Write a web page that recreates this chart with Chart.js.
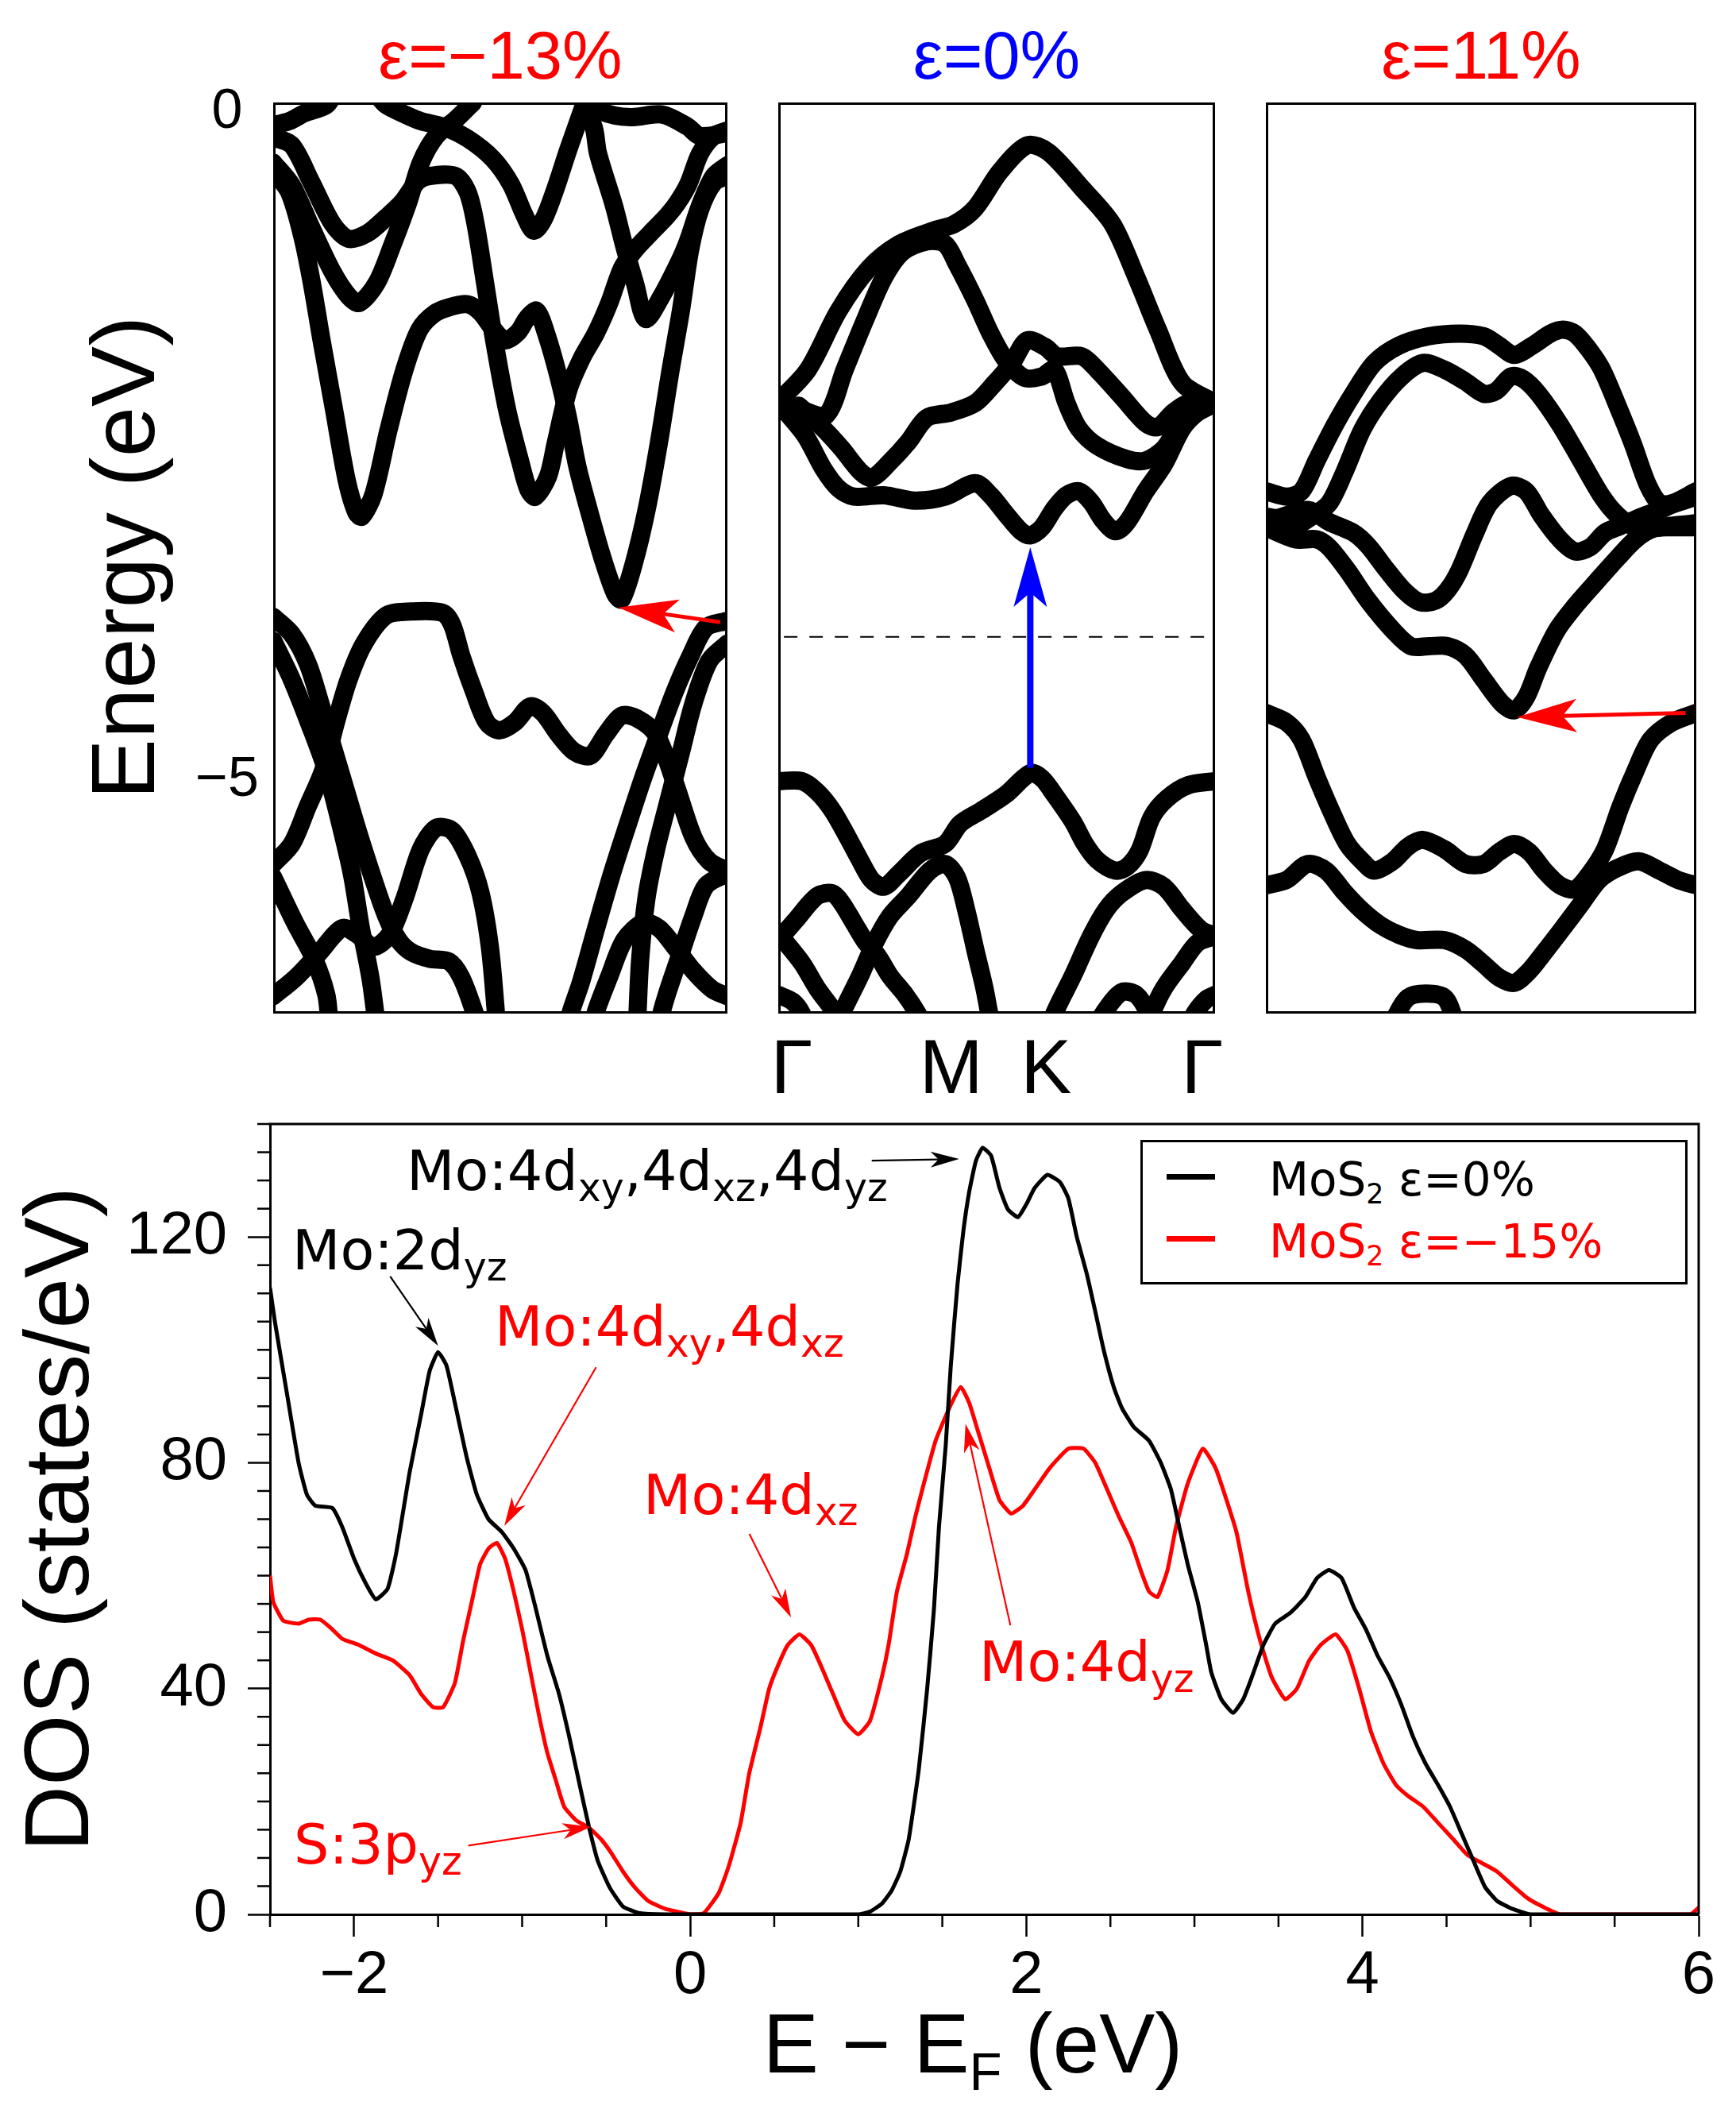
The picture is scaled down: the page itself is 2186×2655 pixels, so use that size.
<!DOCTYPE html>
<html>
<head>
<meta charset="utf-8">
<title>MoS2 band structures and DOS</title>
<script src="https://cdn.jsdelivr.net/npm/chart.js@4.4.1/dist/chart.umd.min.js"></script>
<style>
html,body{margin:0;padding:0;background:#ffffff;}
body{position:relative;width:2186px;height:2655px;overflow:hidden;}
canvas{position:absolute;display:block;}
.t{position:absolute;white-space:nowrap;line-height:1;margin:0;color:#000;}
.lib{font-family:"Liberation Sans",Arial,sans-serif;}
.dv{font-family:"DejaVu Sans",sans-serif;}
.c{transform:translate(-50%,-50%);}
.t sub{font-size:0.7em;vertical-align:-0.28em;line-height:0;}
.red{color:#ff0000;}
.leg{position:absolute;box-sizing:border-box;border:3px solid #000;background:#fff;}
.sw{position:absolute;height:7px;}
</style>
</head>
<body>
<canvas id="band0" width="572" height="1147" style="left:344px;top:129px"></canvas>
<canvas id="band1" width="550" height="1147" style="left:980px;top:129px"></canvas>
<canvas id="band2" width="542" height="1147" style="left:1594px;top:129px"></canvas>
<canvas id="dos" width="2186" height="1355" style="left:0px;top:1300px"></canvas>

<div class="t lib" style="left:155px;top:702px;font-size:114px;transform:translate(-50%,-50%) rotate(-90deg)">Energy (eV)</div>
<div class="t lib c" style="left:1225px;top:2572px;font-size:105px">E − E<sub style="font-size:0.64em;vertical-align:-0.33em">F</sub> (eV)</div>

<div class="t dv" style="left:512px;top:1439px;font-size:70px">Mo:4d<sub>xy</sub>,4d<sub>xz</sub>,4d<sub>yz</sub></div>
<div class="t dv" style="left:368px;top:1539px;font-size:70px">Mo:2d<sub>yz</sub></div>
<div class="t dv red" style="left:623px;top:1635px;font-size:70px">Mo:4d<sub>xy</sub>,4d<sub>xz</sub></div>
<div class="t dv red" style="left:810px;top:1847px;font-size:70px">Mo:4d<sub>xz</sub></div>
<div class="t dv red" style="left:370px;top:2287px;font-size:70px">S:3p<sub>yz</sub></div>
<div class="t dv red" style="left:1233px;top:2057px;font-size:70px">Mo:4d<sub>yz</sub></div>

<div class="leg" style="left:1436px;top:1435px;width:689px;height:182px"></div>
<div id="legendItems"></div>

<script>
// ---------------- DATA ----------------
const panelTitles = ['ε=−13%', 'ε=0%', 'ε=11%'];
const panelTitleColors = ['#ff0000', '#0000ff', '#ff0000'];
const kPointLabels = ['Γ', 'M', 'K', 'Γ'];
const kPointLabelPos = [3.1, 39.6, 61.3, 97.1];
const bandYTicks = [0, -5];
const energyMin = -6.77;
const energyMax = 0.05;
const fermiLevel = -3.95;
const fermiLineK = [1.3, 98];

// band energies [k (% of path), E (eV)], strain -13 %
const bandsStrainMinus13 = [
  [[0,-0.12],[3.5,-0.09],[6.9,-0.03],[11.7,0.03],[14,0.15]],
  [[0,-0.21],[4.1,-0.27],[8.3,-0.54],[13.1,-0.86],[16.6,-0.97],[20.7,-0.93],[24.9,-0.81],[28.3,-0.70],[31.8,-0.54],[34.5,-0.50],[40.1,-0.50],[42.8,-0.62],[44.5,-0.85],[46.5,-1.27],[48.6,-1.72],[51.5,-2.25],[54.4,-2.64],[56.2,-2.85],[57.7,-2.90],[60.5,-2.75],[62.2,-2.50],[65.0,-2.10],[68.0,-1.86],[71.0,-1.68],[74.0,-1.45],[76.8,-1.19],[79.7,-1.05],[83.0,-0.93],[86.7,-0.80],[89.0,-0.70],[91.4,-0.56],[94.0,-0.33],[97.0,-0.20],[100,-0.16]],
  [[0,-0.46],[3.5,-0.62],[6.4,-0.95],[8.5,-1.30],[10.6,-1.72],[13.4,-2.25],[16.2,-2.78],[18.3,-3.02],[19.5,-3.05],[22.1,-2.88],[25.4,-2.40],[28.9,-1.95],[32.2,-1.65],[35.5,-1.53],[39.0,-1.48],[42.8,-1.46],[45.6,-1.52],[48.3,-1.64],[51.1,-1.73],[53.9,-1.67],[56.0,-1.56],[58.0,-1.51],[60.1,-1.68],[62.8,-2.0],[64.9,-2.31],[67.0,-2.68],[69.8,-3.04],[72.5,-3.36],[75.3,-3.63],[76.7,-3.67],[79.4,-3.40],[82.2,-3.00],[84.9,-2.50],[87.5,-1.95],[89.8,-1.50],[91.8,-1.05],[94.0,-0.75],[97.0,-0.55],[100,-0.50]],
  [[0,-0.40],[4.1,-0.57],[8.3,-0.88],[13.1,-1.22],[16.6,-1.40],[19.0,-1.45],[22.8,-1.30],[26.2,-1.02],[29.7,-0.70],[32.5,-0.40],[35.9,-0.20],[40.1,-0.08],[44,0.05]],
  [[23,0.10],[24.9,0.03],[29.0,-0.04],[32.5,-0.09],[37.3,-0.13],[42.8,-0.22],[48.3,-0.37],[52.3,-0.56],[55.4,-0.80],[57.4,-0.91],[59.6,-0.82],[62.2,-0.59],[64.9,-0.31],[67.7,-0.04],[68.4,0.03],[69,0.10]],
  [[68.4,0.03],[70.6,-0.14],[71.5,-0.33],[75.0,-0.72],[77.4,-1.04],[79.7,-1.31],[82.0,-1.57],[85.5,-1.40],[89.7,-1.12],[91.4,-0.98],[94.0,-0.72],[97.0,-0.50],[100,-0.42]],
  [[71,0.05],[72.5,-0.02],[78.7,-0.06],[85.6,-0.04],[91.2,-0.13],[93.9,-0.20],[100,-0.18]],
  [[0,-3.80],[4.1,-3.93],[7.6,-4.15],[10.4,-4.45],[13.1,-4.77],[15.9,-5.09],[18.6,-5.40],[22.1,-5.77],[24.9,-6.04],[27.6,-6.22],[30.4,-6.31],[34.5,-6.36],[38.7,-6.38],[41.4,-6.50],[44.2,-6.75],[45,-6.85]],
  [[0,-3.98],[4.1,-4.27],[8.3,-4.63],[11.7,-4.95],[14.5,-5.31],[17.3,-5.72],[19.3,-6.13],[21.4,-6.50],[22.4,-6.75],[22.7,-6.85]],
  [[0,-5.65],[4.1,-5.50],[7.6,-5.22],[11.0,-4.95],[13.8,-4.59],[16.6,-4.27],[20.0,-4.0],[24.9,-3.79],[30.4,-3.76],[37.3,-3.77],[39.4,-3.86],[41.4,-4.09],[44.2,-4.36],[47.0,-4.59],[49.7,-4.65],[53.2,-4.59],[56.6,-4.47],[59.4,-4.52],[62.8,-4.68],[66.3,-4.81],[69.8,-4.84],[73.2,-4.68],[76.7,-4.54],[80.1,-4.56],[84.3,-4.68],[88.4,-5.04],[92.5,-5.45],[96.0,-5.63],[100,-5.70]],
  [[100,-3.83],[95.3,-3.88],[91.9,-4.09],[88.4,-4.36],[84.9,-4.68],[81.5,-5.0],[78.0,-5.36],[74.6,-5.72],[71.1,-6.13],[67.7,-6.54],[65.6,-6.75],[65,-6.85]],
  [[100,-4.0],[96.0,-4.13],[92.5,-4.45],[89.8,-4.81],[87.0,-5.18],[84.3,-5.54],[82.2,-5.90],[80.8,-6.36],[80.1,-6.85]],
  [[100,-5.72],[95.3,-5.81],[92.5,-6.04],[89.8,-6.31],[87.0,-6.59],[85.6,-6.75],[85,-6.85]],
  [[70.5,-6.85],[71.1,-6.75],[73.9,-6.50],[77.3,-6.22],[81.5,-6.09],[84.9,-6.13],[88.4,-6.27],[92.5,-6.45],[96.7,-6.59],[100,-6.64]],
  [[0,-6.64],[5,-6.50],[10,-6.32],[15.2,-6.13],[18.6,-6.18],[22.1,-6.27],[25.6,-6.18],[29.0,-5.90],[32.5,-5.54],[35.9,-5.38],[39.4,-5.40],[42.8,-5.59],[45.6,-5.86],[47.7,-6.27],[49.0,-6.75],[49.2,-6.85]],
  [[0,-5.75],[4.8,-6.09],[9.0,-6.36],[11.7,-6.63],[12.4,-6.85]]
];

// strain 0 %
const bandsStrain0 = [
  [[0,-2.19],[6.8,-1.95],[13.8,-1.51],[20.8,-1.19],[27.7,-1.01],[35.4,-0.91],[40.3,-0.86],[45.1,-0.74],[50.7,-0.47],[57.0,-0.27],[61.8,-0.32],[69.5,-0.59],[76.5,-0.86],[82.0,-1.26],[86.9,-1.65],[92.5,-2.05],[100,-2.20]],
  [[0,-2.19],[5.4,-2.25],[11.0,-2.29],[15.2,-1.95],[20.1,-1.56],[24.2,-1.26],[28.4,-1.07],[34.0,-0.99],[38.2,-1.01],[40.9,-1.16],[45.1,-1.43],[48.6,-1.68],[52.1,-1.88],[56.3,-2.01],[60.4,-2.0],[63.2,-1.95],[66.0,-2.20],[68.8,-2.39],[73.0,-2.52],[79.9,-2.62],[84.1,-2.63],[88.3,-2.54],[92.5,-2.34],[100,-2.20]],
  [[0,-2.20],[6.1,-2.44],[10.3,-2.69],[13.8,-2.84],[17.3,-2.90],[24.2,-2.89],[31.2,-2.93],[38.2,-2.90],[45.1,-2.80],[48.6,-2.89],[52.1,-3.03],[55.6,-3.16],[57.7,-3.19],[60.4,-3.13],[63.2,-2.99],[66.0,-2.89],[68.8,-2.86],[71.6,-2.94],[74.4,-3.08],[77.2,-3.16],[79.9,-3.09],[84.1,-2.86],[88.3,-2.66],[92.5,-2.39],[96.0,-2.27],[100,-2.20]],
  [[4.7,-2.22],[10.3,-2.39],[14.5,-2.54],[18.7,-2.71],[21.4,-2.76],[25.6,-2.64],[29.8,-2.49],[34.0,-2.31],[39.6,-2.27],[45.1,-2.20],[49.3,-2.06],[53.5,-1.90],[57.0,-1.73],[61.1,-1.78],[63.9,-1.85],[69.5,-1.85],[73.0,-1.95],[78.6,-2.15],[84.1,-2.35],[86.9,-2.38],[90.4,-2.27],[93.9,-2.20],[100,-2.20]],
  [[0,-5.03],[5.4,-5.03],[8.9,-5.11],[12.4,-5.25],[15.9,-5.45],[18.7,-5.62],[21.4,-5.77],[24.2,-5.82],[27.7,-5.72],[32.6,-5.57],[38.2,-5.50],[41.6,-5.35],[46.5,-5.25],[52.1,-5.13],[57.7,-4.97],[60.4,-5.01],[63.2,-5.13],[67.4,-5.33],[70.2,-5.50],[73.0,-5.62],[77.2,-5.70],[79.9,-5.67],[82.7,-5.55],[85.5,-5.30],[89.0,-5.16],[93.9,-5.06],[100,-5.03]],
  [[0,-6.22],[4.0,-6.07],[8.9,-5.89],[12.4,-5.87],[14.5,-5.94],[17.3,-6.09],[20.1,-6.24],[22.8,-6.34],[25.6,-6.49],[29.1,-6.63],[31.9,-6.77],[33,-6.85]],
  [[0,-6.17],[5.4,-6.39],[8.9,-6.58],[13.1,-6.77],[14,-6.85]],
  [[13.6,-6.85],[14.5,-6.77],[18.7,-6.49],[22.1,-6.24],[25.6,-6.04],[29.8,-5.89],[34.7,-5.70],[38.2,-5.65],[40.9,-5.75],[43.0,-5.99],[45.1,-6.29],[47.2,-6.58],[48.3,-6.77],[48.8,-6.85]],
  [[0,-6.63],[3.3,-6.68],[5.4,-6.77],[6,-6.85]],
  [[62.8,-6.85],[63.2,-6.77],[67.4,-6.49],[71.6,-6.19],[75.1,-5.99],[78.6,-5.87],[84.1,-5.77],[88.3,-5.82],[92.5,-5.99],[96.7,-6.14],[100,-6.19]],
  [[100,-6.19],[96.0,-6.24],[92.5,-6.39],[88.3,-6.58],[85.5,-6.77],[85,-6.85]],
  [[73.5,-6.85],[74.4,-6.77],[78.6,-6.61],[82.0,-6.63],[84.8,-6.77],[85.3,-6.85]],
  [[94.5,-6.85],[95.3,-6.77],[98.1,-6.66],[100,-6.63]]
];

// strain 11 %
const bandsStrain11 = [
  [[0,-2.86],[4.8,-2.90],[8.3,-2.86],[11.8,-2.63],[16.1,-2.36],[20.3,-2.13],[25.2,-1.90],[30.9,-1.77],[37.9,-1.70],[45.0,-1.68],[50.6,-1.70],[54.2,-1.77],[57.7,-1.84],[61.9,-1.77],[66.1,-1.68],[69.0,-1.65],[71.8,-1.68],[75.3,-1.81],[78.1,-1.95],[81.7,-2.22],[85.2,-2.50],[88.7,-2.81],[91.5,-2.95],[94.4,-2.95],[100,-2.86]],
  [[0,-3.13],[6.2,-3.13],[11.1,-3.04],[14.7,-2.95],[18.2,-2.72],[22.4,-2.40],[26.7,-2.18],[31.6,-2.0],[36.5,-1.90],[41.5,-1.95],[46.4,-2.04],[50.6,-2.13],[53.5,-2.11],[57.0,-2.0],[59.8,-2.02],[63.3,-2.13],[68.3,-2.36],[73.2,-2.63],[78.1,-2.90],[81.7,-3.04],[85.9,-3.13],[92.9,-3.13],[100,-3.13]],
  [[0,-3.05],[2.7,-3.06],[9.7,-3.0],[14.7,-3.09],[20.3,-3.17],[23.8,-3.27],[28.1,-3.45],[32.3,-3.61],[35.8,-3.69],[39.4,-3.68],[42.2,-3.60],[45.0,-3.45],[48.5,-3.18],[52.0,-2.95],[57.0,-2.82],[60.5,-2.86],[64.0,-3.04],[68.3,-3.22],[71.8,-3.31],[75.3,-3.28],[78.8,-3.17],[82.4,-3.12],[87.3,-3.05],[91.5,-3.0],[94.4,-2.96],[100,-2.90]],
  [[0,-3.13],[6.9,-3.22],[11.8,-3.22],[14.7,-3.28],[18.9,-3.45],[23.8,-3.68],[29.5,-3.90],[33.7,-4.02],[37.9,-4.02],[42.2,-4.02],[46.4,-4.09],[50.6,-4.27],[54.9,-4.45],[57.7,-4.50],[60.5,-4.40],[63.3,-4.18],[67.6,-3.90],[71.8,-3.72],[76.7,-3.54],[81.7,-3.36],[85.9,-3.22],[90.1,-3.14],[100,-3.10]],
  [[0,-4.52],[4.8,-4.59],[8.3,-4.72],[11.8,-5.0],[15.4,-5.27],[18.9,-5.50],[22.4,-5.63],[25.2,-5.70],[29.5,-5.63],[33.0,-5.52],[36.5,-5.47],[41.5,-5.54],[46.4,-5.65],[50.6,-5.65],[54.2,-5.56],[57.7,-5.50],[61.2,-5.56],[64.7,-5.70],[68.3,-5.81],[71.8,-5.84],[75.3,-5.72],[78.8,-5.54],[82.4,-5.22],[85.9,-4.95],[89.4,-4.72],[94.4,-4.59],[100,-4.52]],
  [[0,-5.81],[4.8,-5.77],[9.7,-5.65],[14.0,-5.70],[18.2,-5.86],[22.4,-6.0],[26.7,-6.11],[30.9,-6.18],[35.1,-6.22],[41.5,-6.22],[46.4,-6.29],[50.6,-6.40],[54.2,-6.50],[57.7,-6.54],[61.2,-6.45],[64.7,-6.31],[69.0,-6.13],[73.2,-5.95],[77.4,-5.77],[81.7,-5.68],[86.6,-5.63],[91.5,-5.70],[95.8,-5.77],[100,-5.81]],
  [[29.8,-6.85],[30.2,-6.79],[33.0,-6.65],[37.2,-6.62],[41.5,-6.65],[43.6,-6.79],[44,-6.85]]
];

// gap arrows in the band panels: from -> to in (k, E)
const bandArrowsM13 = [{from:[98.4,-3.84], to:[76.0,-3.73], color:'#ff0000', width:5}];
const bandArrows0   = [{from:[57.7,-4.93], to:[57.7,-3.28], color:'#0000ff', width:8}];
const bandArrows11  = [{from:[97.5,-4.52], to:[58.4,-4.55], color:'#ff0000', width:5}];

// DOS, eps = 0 %
const dosEnergyStrain0 = [-2.5,-2.47,-2.4,-2.33,-2.28,-2.23,-2.13,-2.07,-2.0,-1.93,-1.87,-1.8,-1.75,-1.67,-1.6,-1.55,-1.5,-1.45,-1.4,-1.33,-1.27,-1.2,-1.12,-1.05,-0.98,-0.92,-0.85,-0.78,-0.72,-0.65,-0.6,-0.55,-0.48,-0.4,-0.3,-0.15,1.0,1.07,1.14,1.2,1.25,1.3,1.36,1.41,1.45,1.48,1.52,1.55,1.59,1.625,1.66,1.7,1.74,1.79,1.84,1.89,1.95,2.0,2.05,2.125,2.2,2.25,2.3,2.36,2.41,2.46,2.52,2.57,2.64,2.73,2.8,2.86,2.91,2.96,3.02,3.07,3.1,3.16,3.23,3.29,3.34,3.41,3.48,3.57,3.66,3.73,3.8,3.875,3.95,4.02,4.09,4.16,4.23,4.3,4.375,4.45,4.52,4.59,4.66,4.73,4.8,4.89,5.0,6.0];
const dosStrain0 = [111,104.8,92.4,80,74.3,72.4,72,68.6,63,58.6,55.8,57.7,63.9,78.2,88.7,96.3,99.6,97.2,90.6,81,74.4,70,67.7,64.8,61,54.3,45.8,39,31.5,21.9,15.2,9.5,4.8,1.4,0.2,0,0,0.5,1.9,4.3,7.6,13.3,25.7,40,54,68.6,83,97,111.5,121,128,133.5,135.8,134.4,128.7,124.9,123.5,125.8,128.7,131,129.7,126.8,120,113.4,106.8,100,93.4,89.6,86.3,83.9,80,75.3,68.6,62,55.3,47.7,42.9,38.1,35.7,38.1,41.9,47.7,51.5,53.4,56.2,59.6,61,59.6,54.3,50.5,45.8,42,37.2,31.5,26.7,22.9,19.1,14.3,9.5,4.8,2.4,1,0,0];

// DOS, eps = -15 %
const dosEnergyStrainMinus15 = [-2.5,-2.48,-2.42,-2.33,-2.27,-2.2,-2.13,-2.07,-1.97,-1.87,-1.77,-1.67,-1.6,-1.53,-1.47,-1.4,-1.35,-1.3,-1.25,-1.2,-1.15,-1.1,-1.05,-1.0,-0.95,-0.9,-0.85,-0.8,-0.75,-0.68,-0.6,-0.53,-0.47,-0.4,-0.33,-0.25,-0.15,0,0.08,0.17,0.23,0.3,0.35,0.42,0.47,0.52,0.58,0.65,0.72,0.78,0.85,0.92,1.0,1.07,1.14,1.18,1.23,1.29,1.34,1.39,1.46,1.54,1.61,1.66,1.71,1.77,1.84,1.91,1.98,2.05,2.14,2.25,2.34,2.41,2.48,2.55,2.625,2.68,2.73,2.78,2.84,2.89,2.96,3.05,3.125,3.18,3.25,3.32,3.39,3.46,3.54,3.61,3.68,3.75,3.84,3.91,3.98,4.05,4.125,4.2,4.27,4.36,4.45,4.54,4.625,4.71,4.8,4.89,4.98,5.07,5.18,5.95,6.0];
const dosStrainMinus15 = [60,55.3,52,51.5,52.2,52.2,50.5,48.8,47.7,46.2,45,42.4,39,36.7,36.7,41,48.6,55.3,62,64.8,65.8,62.9,57.2,50.5,42.9,35.3,28.6,23.8,19.1,16.7,15.3,13.3,10.9,7.6,4.8,2.4,1,0,0.2,3.8,8.6,16.2,24.8,33.4,40,43.9,47.7,49.6,47.7,43.9,39,34.3,31.9,34.3,42,47.7,57.2,63.9,70.5,76.3,83.9,89.6,93.4,90.6,85.8,80,73.4,71,72.4,75.3,79.1,82.5,82.5,80,75.3,70.5,65.8,61,57.2,56.2,61,68.6,76.3,82.5,79.1,74.4,67.7,57.2,48.6,42,38.1,40,44.8,47.7,49.6,46.7,40,32.4,26.7,22.9,21,19.1,16.2,13.3,10.5,9.1,7.6,5.2,2.9,1.4,0,0,1.2];

const dosSeriesNames = ['MoS<sub>2</sub> ε=0%', 'MoS<sub>2</sub> ε=−15%'];
const dosSeriesColors = ['#000000', '#ff0000'];

// annotation arrows in the DOS panel: from -> to in (eV, states/eV)
const dosArrows = [
  {from:[1.08,133.5],   to:[1.60,133.8],   color:'#000000'},
  {from:[-1.785,113.0], to:[-1.50,100.7],  color:'#000000'},
  {from:[-0.56,96.9],   to:[-1.106,68.8],  color:'#ff0000'},
  {from:[0.352,67.4],   to:[0.60,52.6],    color:'#ff0000'},
  {from:[-1.32,12.2],   to:[-0.59,15.5],   color:'#ff0000'},
  {from:[1.905,51.2],   to:[1.638,86.9],   color:'#ff0000'}
];
const dosXMin = -2.5, dosXMax = 6, dosYMin = 0, dosYMax = 140;
const dosXMajor = 2, dosXMinor = 0.5, dosYMajor = 40, dosYMinor = 5;

// ---------------- DRAWING ----------------
Chart.defaults.font.family = '"Liberation Sans", Arial, sans-serif';
Chart.defaults.color = '#000';

function pts(band) { return band.map(p => ({x: p[0], y: p[1]})); }
function zipXY(xs, ys) { return xs.map((x, i) => ({x: x, y: ys[i]})); }
function minusFmt(v) { return v < 0 ? '\u2212' + Math.abs(v) : String(v); }

function drawArrow(ctx, x1, y1, x2, y2, lw, headLen, headHalf, notch, color) {
  const ang = Math.atan2(y2 - y1, x2 - x1);
  ctx.save();
  ctx.strokeStyle = color; ctx.fillStyle = color; ctx.lineWidth = lw; ctx.lineCap = 'butt';
  const nx = x2 - Math.cos(ang) * notch, ny = y2 - Math.sin(ang) * notch;
  ctx.beginPath(); ctx.moveTo(x1, y1); ctx.lineTo(nx, ny); ctx.stroke();
  ctx.translate(x2, y2); ctx.rotate(ang);
  ctx.beginPath();
  ctx.moveTo(0, 0); ctx.lineTo(-headLen, headHalf); ctx.lineTo(-notch, 0); ctx.lineTo(-headLen, -headHalf);
  ctx.closePath(); ctx.fill();
  ctx.restore();
}

const bandDecor = {
  id: 'bandDecor',
  afterDatasetsDraw(chart, args, opts) {
    const {ctx, chartArea: a, scales: {x, y}} = chart;
    ctx.save();
    ctx.strokeStyle = '#000'; ctx.lineWidth = 3;
    ctx.strokeRect(a.left + 1.5, a.top + 1.5, a.right - a.left - 3, a.bottom - a.top - 3);
    ctx.restore();
    (opts.arrows || []).forEach(ar => {
      drawArrow(ctx, x.getPixelForValue(ar.from[0]), y.getPixelForValue(ar.from[1]),
                x.getPixelForValue(ar.to[0]), y.getPixelForValue(ar.to[1]),
                ar.width, 75, 21, 57, ar.color);
    });
  }
};

const bandSets = [bandsStrainMinus13, bandsStrain0, bandsStrain11];
const bandArrowSets = [bandArrowsM13, bandArrows0, bandArrows11];
const bandCharts = bandSets.map((bands, i) => {
  const datasets = bands.map(b => ({
    data: pts(b), borderColor: '#000', borderWidth: 23, showLine: true, pointRadius: 0,
    tension: 0.3, borderCapStyle: 'round', borderJoinStyle: 'round', clip: 0
  }));
  if (i === 1) {
    datasets.unshift({
      data: fermiLineK.map(k => ({x: k, y: fermiLevel})), borderColor: '#000', borderWidth: 2,
      borderDash: [17, 15], showLine: true, pointRadius: 0, clip: 0
    });
  }
  return new Chart(document.getElementById('band' + i), {
    type: 'scatter',
    data: {datasets},
    options: {
      responsive: false, animation: false, devicePixelRatio: 1, events: [],
      layout: {padding: 0},
      scales: {
        x: {type: 'linear', min: 0, max: 100, display: false},
        y: {type: 'linear', min: energyMin, max: energyMax, display: false}
      },
      plugins: {legend: {display: false}, tooltip: {enabled: false}, bandDecor: {arrows: bandArrowSets[i]}}
    },
    plugins: [bandDecor]
  });
});

const dosDecor = {
  id: 'dosDecor',
  afterDatasetsDraw(chart) {
    const {ctx, chartArea: a, scales: {x, y}} = chart;
    ctx.save();
    ctx.strokeStyle = '#000'; ctx.lineWidth = 3;
    ctx.beginPath(); ctx.moveTo(a.left - 1.5, a.top); ctx.lineTo(a.right, a.top); ctx.lineTo(a.right, a.bottom); ctx.stroke();
    ctx.lineWidth = 2.5;
    for (let v = dosYMin; v <= dosYMax + 1e-9; v += dosYMinor) {
      if (Math.abs(v % dosYMajor) < 1e-6) continue;
      const py = y.getPixelForValue(v);
      ctx.beginPath(); ctx.moveTo(a.left - 16, py); ctx.lineTo(a.left, py); ctx.stroke();
    }
    for (let v = dosXMin; v <= dosXMax + 1e-9; v += dosXMinor) {
      if (Math.abs(v % dosXMajor) < 1e-6) continue;
      const px = x.getPixelForValue(v);
      ctx.beginPath(); ctx.moveTo(px, a.bottom); ctx.lineTo(px, a.bottom + 16); ctx.stroke();
    }
    ctx.restore();
    dosArrows.forEach(ar => {
      drawArrow(ctx, x.getPixelForValue(ar.from[0]), y.getPixelForValue(ar.from[1]),
                x.getPixelForValue(ar.to[0]), y.getPixelForValue(ar.to[1]),
                2.2, 36, 10, 26, ar.color);
    });
  }
};

const dosChart = new Chart(document.getElementById('dos'), {
  type: 'scatter',
  data: {datasets: [
    {label: 'MoS2 ε=0%', data: zipXY(dosEnergyStrain0, dosStrain0), borderColor: dosSeriesColors[0], borderWidth: 5, showLine: true, pointRadius: 0, tension: 0.15, borderJoinStyle: 'round'},
    {label: 'MoS2 ε=−15%', data: zipXY(dosEnergyStrainMinus15, dosStrainMinus15), borderColor: dosSeriesColors[1], borderWidth: 5, showLine: true, pointRadius: 0, tension: 0.15, borderJoinStyle: 'round'}
  ]},
  options: {
    responsive: false, animation: false, devicePixelRatio: 1, events: [],
    layout: {padding: {left: 0, top: 115, right: 47, bottom: 0}},
    plugins: {legend: {display: false}, tooltip: {enabled: false}},
    scales: {
      x: {
        type: 'linear', min: dosXMin, max: dosXMax,
        afterFit(s) { s.height = 245; },
        ticks: {stepSize: dosXMajor, includeBounds: false, autoSkip: false, maxRotation: 0, padding: 4,
                color: '#000', font: {size: 76}, callback: v => minusFmt(v)},
        grid: {drawOnChartArea: false, drawTicks: true, tickLength: 28, tickWidth: 2.5, tickColor: '#000'},
        border: {display: true, color: '#000', width: 3}
      },
      y: {
        type: 'linear', min: dosYMin, max: dosYMax,
        afterFit(s) { s.width = 340; },
        ticks: {stepSize: dosYMajor, includeBounds: false, padding: 26, color: '#000', font: {size: 76}},
        grid: {drawOnChartArea: false, drawTicks: true, tickLength: 28, tickWidth: 2.5, tickColor: '#000'},
        border: {display: true, color: '#000', width: 3},
        title: {display: true, text: 'DOS (states/eV)', color: '#000', font: {size: 115}, padding: {top: 10, bottom: 0}}
      }
    }
  },
  plugins: [dosDecor]
});

// ---------------- TEXT OVERLAYS ----------------
function addText(html, cx, cy, size, color, cls) {
  const d = document.createElement('div');
  d.className = 't c ' + (cls || 'lib');
  d.style.left = cx + 'px'; d.style.top = cy + 'px';
  d.style.fontSize = size + 'px'; d.style.color = color;
  d.innerHTML = html;
  document.body.appendChild(d);
  return d;
}
bandCharts.forEach((ch, i) => {
  const left = parseFloat(ch.canvas.style.left);
  const cx = left + (ch.chartArea.left + ch.chartArea.right) / 2;
  addText(panelTitles[i], cx, 69, 85, panelTitleColors[i]);
});
(function () {
  const ch = bandCharts[1];
  const left = parseFloat(ch.canvas.style.left);
  kPointLabels.forEach((lab, j) => addText(lab, left + ch.scales.x.getPixelForValue(kPointLabelPos[j]), 1343, 96, '#000'));
  const c0 = bandCharts[0];
  const top0 = parseFloat(c0.canvas.style.top);
  bandYTicks.forEach(v => addText(minusFmt(v), 286, top0 + c0.scales.y.getPixelForValue(v), 70, '#000'));
})();
(function () {
  const box = document.getElementById('legendItems');
  const rows = [1481, 1559];
  dosSeriesNames.forEach((name, i) => {
    const sw = document.createElement('div');
    sw.className = 'sw';
    sw.style.left = '1469px'; sw.style.width = '61px';
    sw.style.top = (rows[i] - 3.5) + 'px'; sw.style.background = dosSeriesColors[i];
    box.appendChild(sw);
    const t = document.createElement('div');
    t.className = 't dv';
    t.style.left = '1598px'; t.style.top = (rows[i] - 25) + 'px';
    t.style.fontSize = '58px'; t.style.color = dosSeriesColors[i];
    t.innerHTML = name.replace('<sub>', '<sub style="font-size:0.6em;vertical-align:-0.3em">');
    box.appendChild(t);
  });
})();
</script>
</body>
</html>
